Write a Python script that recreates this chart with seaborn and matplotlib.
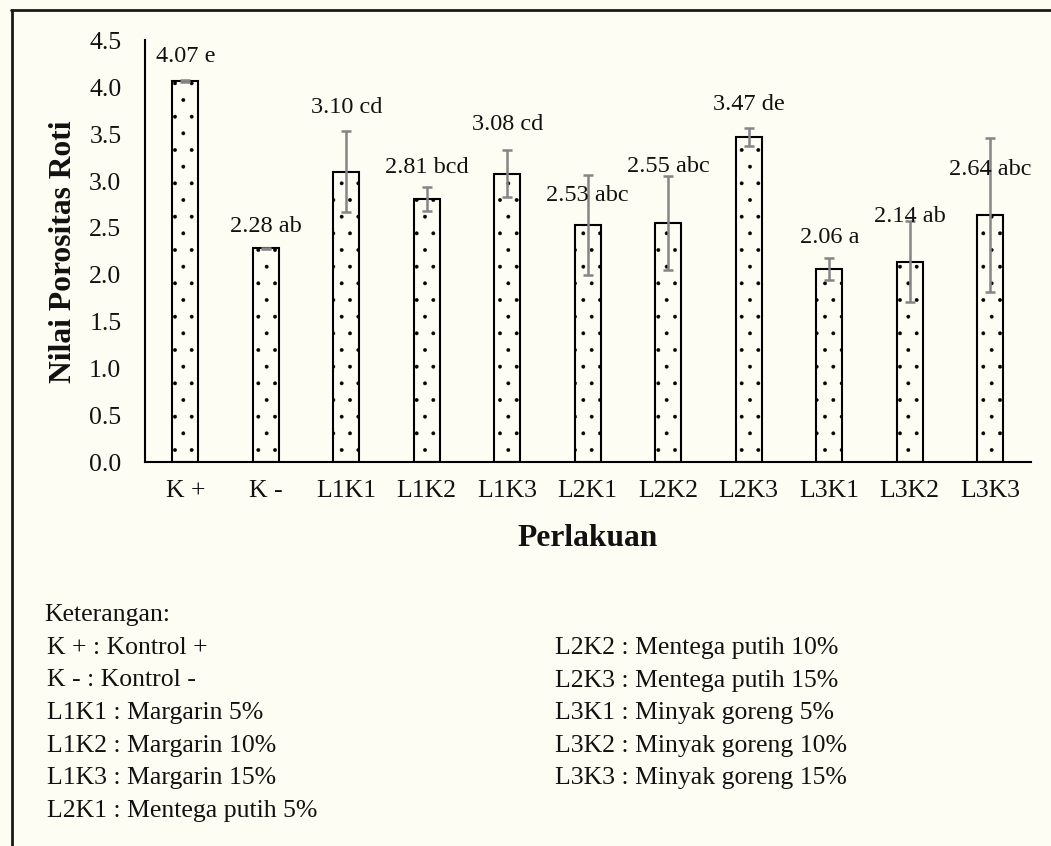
import matplotlib
matplotlib.use("Agg")
import matplotlib.pyplot as plt
import seaborn as sns
import pandas as pd
from matplotlib.lines import Line2D

# ---- data ----
categories = ["K +", "K -", "L1K1", "L1K2", "L1K3", "L2K1", "L2K2", "L2K3", "L3K1", "L3K2", "L3K3"]
values = [4.07, 2.28, 3.10, 2.81, 3.08, 2.53, 2.55, 3.47, 2.06, 2.14, 2.64]
errors = [0.01, 0.01, 0.43, 0.13, 0.25, 0.53, 0.50, 0.10, 0.12, 0.43, 0.82]
letters = ["e", "ab", "cd", "bcd", "cd", "abc", "abc", "de", "a", "ab", "abc"]
label_y = [4.33, 2.51, 3.79, 3.14, 3.60, 2.85, 3.16, 3.82, 2.40, 2.62, 3.12]
yticks = [0.0, 0.5, 1.0, 1.5, 2.0, 2.5, 3.0, 3.5, 4.0, 4.5]
legend_left = ["K + : Kontrol +", "K - : Kontrol -", "L1K1 : Margarin 5%",
               "L1K2 : Margarin 10%", "L1K3 : Margarin 15%", "L2K1 : Mentega putih 5%"]
legend_right = ["L2K2 : Mentega putih 10%", "L2K3 : Mentega putih 15%",
                "L3K1 : Minyak goreng 5%", "L3K2 : Minyak goreng 10%",
                "L3K3 : Minyak goreng 15%"]

BG = "#FDFDF4"
sns.set_theme(style="white")
plt.rcParams["font.family"] = ["Liberation Serif", "DejaVu Serif"]
plt.rcParams["hatch.color"] = "black"
plt.rcParams["hatch.linewidth"] = 0.3

W, H = 1051, 846
fig = plt.figure(figsize=(W / 100, H / 100), dpi=100, facecolor=BG)
ax = fig.add_axes([145 / W, (H - 462) / H, (1030.5 - 145) / W, (462 - 40.5) / H])
ax.set_facecolor("none")

df = pd.DataFrame({"Perlakuan": categories, "Nilai": values})
sns.barplot(data=df, x="Perlakuan", y="Nilai", order=categories, width=0.32,
            color=BG, edgecolor="black", linewidth=1.5, errorbar=None, ax=ax)
for p in ax.patches:
    p.set_hatch(".")
    p.set_facecolor("none")
    p.set_edgecolor("black")
    p.set_linewidth(1.5)

xpos = ax.get_xticks()
ax.errorbar(xpos, values, yerr=errors, fmt="none", ecolor="#858585",
            elinewidth=1.8, capsize=3.6, capthick=1.8, zorder=5)

for x, v, l, ly in zip(xpos, values, letters, label_y):
    ax.text(x, ly, f"{v:.2f} {l}", ha="center", va="center", fontsize=17.5,
            color="#111111", zorder=6)

ax.set_ylim(0, 4.5)
ax.set_xlim(-0.5, len(categories) - 0.5)
ax.set_yticks(yticks)
ax.set_yticklabels([f"{t:.1f}" for t in yticks])
ax.tick_params(axis="y", length=0, pad=17, labelsize=18.5, labelcolor="#111111")
ax.tick_params(axis="x", length=0, pad=13, labelsize=18.5, labelcolor="#111111")
for s in ["top", "right"]:
    ax.spines[s].set_visible(False)
for s in ["left", "bottom"]:
    ax.spines[s].set_color("black")
    ax.spines[s].set_linewidth(1.5)

ax.set_ylabel("Nilai Porositas Roti", fontsize=22.7, fontweight="bold", color="#111111")
ax.set_xlabel("Perlakuan", fontsize=22.7, fontweight="bold", color="#111111")
ax.yaxis.set_label_coords((64 - 145) / (1030.5 - 145), (462 - 251.7) / (462 - 40.5))
ax.xaxis.set_label_coords(0.5, -(538 - 462) / (462 - 40.5))
ax.xaxis.label.set_va("center")
ax.yaxis.label.set_va("center")

# frame
fig.add_artist(Line2D([11 / W, 1.0], [1 - 10.5 / H, 1 - 10.5 / H], color="#1a1a1a", lw=2))
fig.add_artist(Line2D([11.5 / W, 11.5 / W], [0, 1 - 10.5 / H], color="#1a1a1a", lw=2))

# keterangan
fs = 18.5
fig.text(44 / W, 1 - 615 / H, "Keterangan:", fontsize=fs, va="center", ha="left", color="#111111")
rows = [648, 680.5, 713, 745.5, 778, 810.5]
for t, y in zip(legend_left, rows):
    fig.text(47 / W, 1 - y / H, t, fontsize=fs, va="center", ha="left", color="#111111")
for t, y in zip(legend_right, rows):
    fig.text(555 / W, 1 - y / H, t, fontsize=fs, va="center", ha="left", color="#111111")

fig.savefig("out.png", dpi=100, facecolor=BG)
